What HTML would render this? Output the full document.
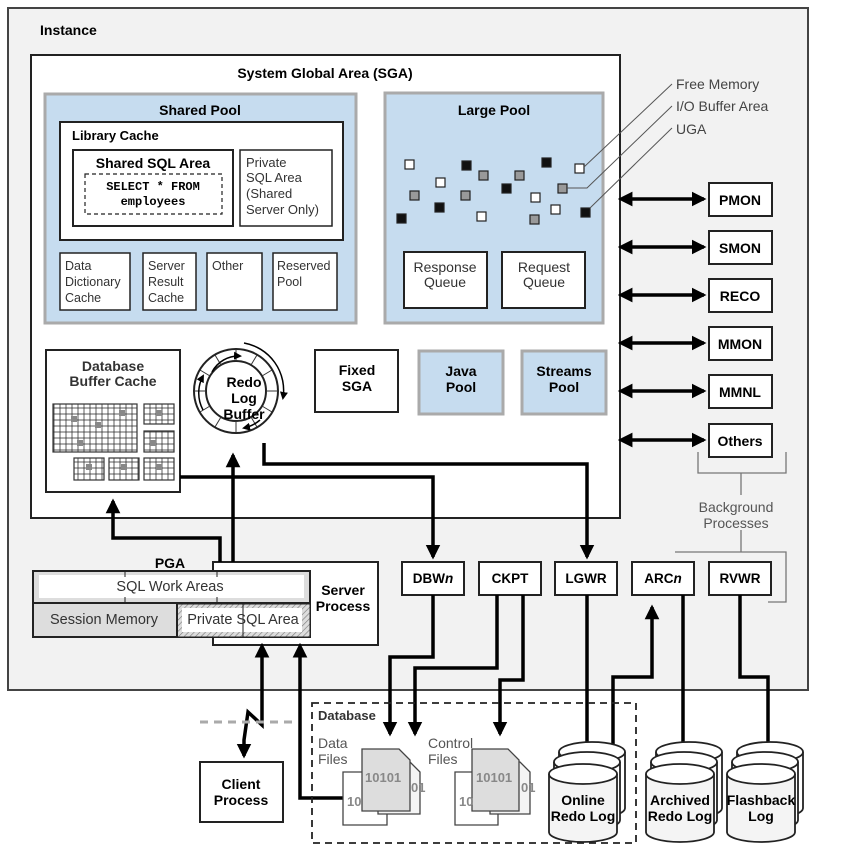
<!DOCTYPE html>
<html><head><meta charset="utf-8"><style>
body{margin:0;background:#fff}
svg{display:block;font-family:"Liberation Sans",Arial,sans-serif}
.b{font-weight:bold}
</style></head><body>
<svg width="865" height="864" viewBox="0 0 865 864" xmlns="http://www.w3.org/2000/svg">
<defs>
<pattern id="grid" width="6" height="6" patternUnits="userSpaceOnUse"><rect width="6" height="6" fill="#fff" stroke="#333" stroke-width="0.8"/></pattern>
<pattern id="hatch" width="4" height="4" patternUnits="userSpaceOnUse" patternTransform="rotate(45)"><rect width="4" height="4" fill="#ddd"/><line x1="0" y1="0" x2="0" y2="4" stroke="#777" stroke-width="1.2"/></pattern>
<marker id="ah" viewBox="0 0 6 6" markerWidth="4.2" markerHeight="4.2" refX="5" refY="3" orient="auto" markerUnits="strokeWidth"><path d="M0,0 L6,3 L0,6 z" fill="#000"/></marker>
<marker id="ahs" viewBox="0 0 6 6" markerWidth="4.2" markerHeight="4.2" refX="1" refY="3" orient="auto-start-reverse" markerUnits="strokeWidth"><path d="M0,0 L6,3 L0,6 z" fill="#000"/></marker>
<marker id="sm" markerWidth="8" markerHeight="8" refX="6" refY="4" orient="auto" markerUnits="userSpaceOnUse"><path d="M0,0 L8,4 L0,8 z" fill="#000"/></marker>
</defs>

<rect x="8" y="8" width="800" height="682" fill="#f2f2f2" stroke="#444" stroke-width="2"/>
<text x="40" y="35" class="b" font-size="14">Instance</text>

<rect x="31" y="55" width="589" height="463" fill="#fff" stroke="#222" stroke-width="2"/>
<text x="325" y="78" class="b" font-size="14" text-anchor="middle">System Global Area (SGA)</text>

<rect x="45" y="94" width="311" height="229" fill="#c6dcef" stroke="#aaa" stroke-width="3"/>
<text x="200" y="115" class="b" font-size="14" text-anchor="middle">Shared Pool</text>
<rect x="60" y="122" width="283" height="118" fill="#fff" stroke="#222" stroke-width="2"/>
<text x="72" y="140" class="b" font-size="13">Library Cache</text>
<rect x="73" y="150" width="160" height="76" fill="#fff" stroke="#222" stroke-width="2"/>
<text x="153" y="168" class="b" font-size="14" text-anchor="middle">Shared SQL Area</text>
<rect x="85" y="174" width="137" height="40" fill="#fff" stroke="#222" stroke-width="1.2" stroke-dasharray="4,3"/>
<text x="153" y="190" class="b" font-size="12" font-family="Liberation Mono,monospace" text-anchor="middle">SELECT * FROM</text>
<text x="153" y="205" class="b" font-size="12" font-family="Liberation Mono,monospace" text-anchor="middle">employees</text>
<rect x="240" y="150" width="92" height="76" fill="#fff" stroke="#222" stroke-width="1.5"/>
<g font-size="13" fill="#333"><text x="246" y="167">Private</text><text x="246" y="182">SQL Area</text><text x="246" y="198">(Shared</text><text x="246" y="214">Server Only)</text></g>
<g fill="#fff" stroke="#222" stroke-width="1.5">
<rect x="60" y="253" width="70" height="57"/><rect x="143" y="253" width="53" height="57"/><rect x="207" y="253" width="55" height="57"/><rect x="273" y="253" width="64" height="57"/></g>
<g font-size="12.5" fill="#333">
<text x="65" y="270">Data</text><text x="65" y="286">Dictionary</text><text x="65" y="302">Cache</text>
<text x="148" y="270">Server</text><text x="148" y="286">Result</text><text x="148" y="302">Cache</text>
<text x="212" y="270">Other</text>
<text x="277" y="270">Reserved</text><text x="277" y="286">Pool</text></g>

<rect x="385" y="93" width="218" height="230" fill="#c6dcef" stroke="#aaa" stroke-width="3"/>
<text x="494" y="115" class="b" font-size="14" text-anchor="middle">Large Pool</text>
<rect x="404" y="252" width="83" height="56" fill="#fff" stroke="#222" stroke-width="2"/>
<rect x="502" y="252" width="83" height="56" fill="#fff" stroke="#222" stroke-width="2"/>
<g font-size="14" fill="#333" text-anchor="middle">
<text x="445" y="272">Response</text><text x="445" y="287">Queue</text>
<text x="544" y="272">Request</text><text x="544" y="287">Queue</text></g>
<g stroke="#222" stroke-width="1.2">
<rect x="405" y="160" width="9" height="9" fill="#fff"/><rect x="462" y="161" width="9" height="9" fill="#111"/>
<rect x="479" y="171" width="9" height="9" fill="#999"/><rect x="515" y="171" width="9" height="9" fill="#999"/>
<rect x="542" y="158" width="9" height="9" fill="#111"/><rect x="575" y="164" width="9" height="9" fill="#fff"/>
<rect x="436" y="178" width="9" height="9" fill="#fff"/><rect x="410" y="191" width="9" height="9" fill="#999"/>
<rect x="461" y="191" width="9" height="9" fill="#999"/><rect x="502" y="184" width="9" height="9" fill="#111"/>
<rect x="531" y="193" width="9" height="9" fill="#fff"/><rect x="558" y="184" width="9" height="9" fill="#999"/>
<rect x="435" y="203" width="9" height="9" fill="#111"/><rect x="477" y="212" width="9" height="9" fill="#fff"/>
<rect x="551" y="205" width="9" height="9" fill="#fff"/><rect x="581" y="208" width="9" height="9" fill="#111"/>
<rect x="397" y="214" width="9" height="9" fill="#111"/><rect x="530" y="215" width="9" height="9" fill="#999"/></g>
<g stroke="#555" stroke-width="1" fill="none">
<path d="M584,167 L672,84"/><path d="M567,188 L587,188 L672,106"/><path d="M590,208 L672,128"/></g>
<g font-size="14" fill="#444"><text x="676" y="89">Free Memory</text><text x="676" y="111">I/O Buffer Area</text><text x="676" y="134">UGA</text></g>

<rect x="46" y="350" width="134" height="142" fill="#fff" stroke="#222" stroke-width="2"/>
<text x="113" y="371" class="b" font-size="14" text-anchor="middle" fill="#333">Database</text>
<text x="113" y="386" class="b" font-size="14" text-anchor="middle" fill="#333">Buffer Cache</text>
<g stroke="#333" stroke-width="1.2">
<rect x="53" y="404" width="84" height="48" fill="url(#grid)"/>
<rect x="144" y="404" width="30" height="20" fill="url(#grid)"/><rect x="144" y="431" width="30" height="21" fill="url(#grid)"/>
<rect x="74" y="458" width="30" height="22" fill="url(#grid)"/><rect x="109" y="458" width="30" height="22" fill="url(#grid)"/><rect x="144" y="458" width="30" height="22" fill="url(#grid)"/></g>
<g fill="#888"><rect x="71" y="416" width="6" height="6"/><rect x="95" y="422" width="6" height="6"/><rect x="77" y="440" width="6" height="6"/><rect x="119" y="410" width="6" height="6"/><rect x="156" y="410" width="6" height="6"/><rect x="150" y="440" width="6" height="6"/><rect x="86" y="464" width="6" height="6"/><rect x="121" y="464" width="6" height="6"/><rect x="156" y="464" width="6" height="6"/></g>

<circle cx="236" cy="391" r="42" fill="#fff" stroke="#222" stroke-width="2"/>
<circle cx="236" cy="391" r="30" fill="#fff" stroke="#222" stroke-width="2"/>
<g stroke="#333" stroke-width="1">
<line x1="236" y1="349" x2="236" y2="361"/><line x1="257" y1="355" x2="251" y2="365"/><line x1="272" y1="370" x2="262" y2="376"/><line x1="278" y1="391" x2="266" y2="391"/><line x1="272" y1="412" x2="262" y2="406"/><line x1="257" y1="427" x2="251" y2="417"/><line x1="236" y1="433" x2="236" y2="421"/><line x1="215" y1="427" x2="221" y2="417"/><line x1="200" y1="412" x2="210" y2="406"/><line x1="194" y1="391" x2="206" y2="391"/><line x1="200" y1="370" x2="210" y2="376"/><line x1="215" y1="355" x2="221" y2="365"/></g>
<path d="M212,372 A30,30 0 0 1 240,356" fill="none" stroke="#000" stroke-width="1.5" marker-end="url(#sm)"/>
<path d="M260,420 A36,36 0 0 1 244,428" fill="none" stroke="#000" stroke-width="1.5" marker-end="url(#sm)"/>
<path d="M203,410 A36,36 0 0 1 203,376" fill="none" stroke="#000" stroke-width="1.5" marker-end="url(#sm)"/>
<path d="M244,343 A48,48 0 0 1 283,398" fill="none" stroke="#000" stroke-width="1.5" marker-end="url(#sm)"/>
<text x="244" y="387" class="b" font-size="14" text-anchor="middle">Redo</text>
<text x="244" y="403" class="b" font-size="14" text-anchor="middle">Log</text>
<text x="244" y="419" class="b" font-size="14" text-anchor="middle">Buffer</text>

<rect x="315" y="350" width="83" height="62" fill="#fff" stroke="#222" stroke-width="2"/>
<text x="357" y="375" class="b" font-size="14" text-anchor="middle">Fixed</text><text x="357" y="391" class="b" font-size="14" text-anchor="middle">SGA</text>
<rect x="419" y="351" width="84" height="63" fill="#c6dcef" stroke="#aaa" stroke-width="3"/>
<text x="461" y="376" class="b" font-size="14" text-anchor="middle">Java</text><text x="461" y="392" class="b" font-size="14" text-anchor="middle">Pool</text>
<rect x="522" y="351" width="84" height="63" fill="#c6dcef" stroke="#aaa" stroke-width="3"/>
<text x="564" y="376" class="b" font-size="14" text-anchor="middle">Streams</text><text x="564" y="392" class="b" font-size="14" text-anchor="middle">Pool</text>

<g stroke="#000" stroke-width="3.5" fill="none">
<line x1="630" y1="199" x2="704" y2="199" marker-start="url(#ahs)" marker-end="url(#ah)"/>
<line x1="630" y1="247" x2="704" y2="247" marker-start="url(#ahs)" marker-end="url(#ah)"/>
<line x1="630" y1="295" x2="704" y2="295" marker-start="url(#ahs)" marker-end="url(#ah)"/>
<line x1="630" y1="343" x2="704" y2="343" marker-start="url(#ahs)" marker-end="url(#ah)"/>
<line x1="630" y1="391" x2="704" y2="391" marker-start="url(#ahs)" marker-end="url(#ah)"/>
<line x1="630" y1="440" x2="704" y2="440" marker-start="url(#ahs)" marker-end="url(#ah)"/>
</g>
<g fill="#fff" stroke="#222" stroke-width="2">
<rect x="709" y="183" width="63" height="33"/><rect x="709" y="231" width="63" height="33"/><rect x="709" y="279" width="63" height="33"/><rect x="709" y="327" width="63" height="33"/><rect x="709" y="375" width="63" height="33"/><rect x="709" y="424" width="63" height="33"/></g>
<g class="b" font-size="14" text-anchor="middle">
<text x="740" y="205">PMON</text><text x="740" y="253">SMON</text><text x="740" y="301">RECO</text><text x="740" y="349">MMON</text><text x="740" y="397">MMNL</text><text x="740" y="446">Others</text></g>
<g stroke="#777" stroke-width="1.3" fill="none">
<path d="M698,452 V473 H786 V452"/><path d="M741,473 V495"/><path d="M741,530 V552"/><path d="M675,552 H786 V602 H768"/></g>
<text x="736" y="512" font-size="14" fill="#555" text-anchor="middle">Background</text>
<text x="736" y="528" font-size="14" fill="#555" text-anchor="middle">Processes</text>

<g fill="#fff" stroke="#222" stroke-width="2">
<rect x="402" y="562" width="62" height="33"/><rect x="479" y="562" width="62" height="33"/><rect x="555" y="562" width="62" height="33"/><rect x="632" y="562" width="62" height="33"/><rect x="709" y="562" width="62" height="33"/></g>
<g class="b" font-size="13.5" text-anchor="middle">
<text x="433" y="583">DBW<tspan font-style="italic">n</tspan></text><text x="510" y="583">CKPT</text><text x="586" y="583">LGWR</text><text x="663" y="583">ARC<tspan font-style="italic">n</tspan></text><text x="740" y="583">RVWR</text></g>

<rect x="213" y="562" width="165" height="83" fill="#fff" stroke="#222" stroke-width="2"/>
<text x="343" y="595" class="b" font-size="14" text-anchor="middle">Server</text>
<text x="343" y="611" class="b" font-size="14" text-anchor="middle">Process</text>
<text x="170" y="568" class="b" font-size="14" text-anchor="middle">PGA</text>
<rect x="33" y="571" width="277" height="66" fill="#ddd" stroke="#222" stroke-width="2"/>
<rect x="39" y="575" width="265" height="23" fill="#fff"/>
<rect x="177" y="604" width="133" height="33" fill="url(#hatch)" stroke="#222" stroke-width="1"/>
<rect x="182" y="608" width="120" height="24" fill="#fff"/>
<line x1="33" y1="603" x2="310" y2="603" stroke="#222" stroke-width="2"/>
<line x1="177" y1="603" x2="177" y2="637" stroke="#222" stroke-width="2"/>
<line x1="125" y1="571" x2="125" y2="577" stroke="#222"/><line x1="125" y1="597" x2="125" y2="603" stroke="#222"/>
<line x1="217" y1="571" x2="217" y2="577" stroke="#222"/><line x1="217" y1="597" x2="217" y2="603" stroke="#222"/>
<line x1="243" y1="603" x2="243" y2="637" stroke="#222" stroke-width="1"/>
<text x="170" y="591" font-size="14.5" fill="#333" text-anchor="middle">SQL Work Areas</text>
<text x="104" y="624" font-size="14.5" fill="#333" text-anchor="middle">Session Memory</text>
<text x="243" y="624" font-size="14.5" fill="#333" text-anchor="middle">Private SQL Area</text>

<g stroke="#000" stroke-width="3.5" fill="none">
<path d="M220,562 V538 H113 V501" marker-end="url(#ah)"/>
<path d="M233,562 V455" marker-end="url(#ah)"/>
<path d="M180,477 H433 V557" marker-end="url(#ah)"/>
<path d="M264,443 V464 H587 V557" marker-end="url(#ah)"/>
<path d="M433,595 V657 H390 V734" marker-end="url(#ah)"/>
<path d="M497,595 V668 H415 V734" marker-end="url(#ah)"/>
<path d="M523,595 V680 H500 V734" marker-end="url(#ah)"/>
<path d="M587,595 V765" marker-end="url(#ah)"/>
<path d="M613,765 V677 H652 V607" marker-end="url(#ah)"/>
<path d="M683,595 V765" marker-end="url(#ah)"/>
<path d="M740,595 V677 H768 V765" marker-end="url(#ah)"/>
<path d="M300,655 V798 H345" marker-start="url(#ahs)"/>
<path d="M262,655 V725 L248,712 L244,740 V756" marker-start="url(#ahs)" marker-end="url(#ah)"/>
</g>
<line x1="200" y1="722" x2="292" y2="722" stroke="#aaa" stroke-width="3" stroke-dasharray="8,6"/>

<rect x="200" y="762" width="83" height="60" fill="#fff" stroke="#222" stroke-width="2"/>
<text x="241" y="789" class="b" font-size="14" text-anchor="middle">Client</text>
<text x="241" y="805" class="b" font-size="14" text-anchor="middle">Process</text>

<rect x="312" y="703" width="324" height="140" fill="none" stroke="#222" stroke-width="1.8" stroke-dasharray="7,5"/>
<text x="318" y="720" class="b" font-size="13" fill="#333">Database</text>
<g font-size="14" fill="#555"><text x="318" y="748">Data</text><text x="318" y="764">Files</text><text x="428" y="748">Control</text><text x="428" y="764">Files</text></g>
<g stroke="#444" stroke-width="1.3">
<path d="M343,772 H387 V825 H343 Z" fill="#fff"/>
<path d="M378,762 H410 L420,772 V814 H378 Z" fill="#f4f4f4"/>
<path d="M362,749 H399 L410,760 V811 H362 Z" fill="#ddd"/>
<path d="M455,772 H498 V825 H455 Z" fill="#fff"/>
<path d="M490,762 H520 L530,772 V814 H490 Z" fill="#f4f4f4"/>
<path d="M472,749 H508 L519,760 V811 H472 Z" fill="#ddd"/></g>
<g font-size="13" fill="#888" class="b"><text x="365" y="782">10101</text><text x="476" y="782">10101</text><text x="347" y="806">10</text><text x="459" y="806">10</text><text x="411" y="792">01</text><text x="521" y="792">01</text></g>

<g stroke="#222" stroke-width="1.8">
<g id="cyl">
<path d="M559,752 v56 a33,10 0 0 0 66,0 v-56" fill="#fff"/><ellipse cx="592" cy="752" rx="33" ry="10" fill="#fff"/>
<path d="M554,762 v58 a33,10 0 0 0 66,0 v-58" fill="#fff"/><ellipse cx="587" cy="762" rx="33" ry="10" fill="#fff"/>
<path d="M549,774 v58 a34,10 0 0 0 68,0 v-58" fill="#f4f4f4"/><ellipse cx="583" cy="774" rx="34" ry="10" fill="#fff"/>
</g>
<use href="#cyl" x="97"/>
<use href="#cyl" x="178"/>
</g>
<g class="b" font-size="14" text-anchor="middle">
<text x="583" y="805">Online</text><text x="583" y="821">Redo Log</text>
<text x="680" y="805">Archived</text><text x="680" y="821">Redo Log</text>
<text x="761" y="805">Flashback</text><text x="761" y="821">Log</text></g>
</svg>
</body></html>
